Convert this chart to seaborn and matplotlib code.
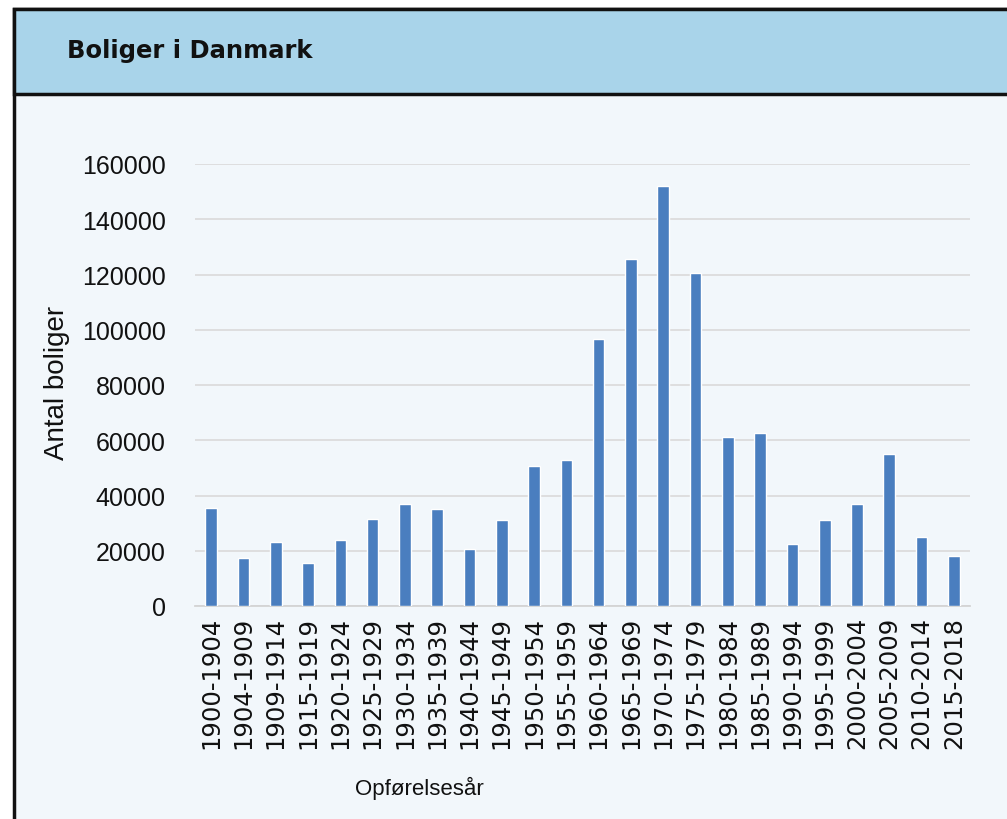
import matplotlib
matplotlib.use("Agg")
import matplotlib.pyplot as plt
from matplotlib.patches import Rectangle
import seaborn as sns
import pandas as pd

categories = ["1900-1904", "1904-1909", "1909-1914", "1915-1919", "1920-1924",
              "1925-1929", "1930-1934", "1935-1939", "1940-1944", "1945-1949",
              "1950-1954", "1955-1959", "1960-1964", "1965-1969", "1970-1974",
              "1975-1979", "1980-1984", "1985-1989", "1990-1994", "1995-1999",
              "2000-2004", "2005-2009", "2010-2014", "2015-2018"]
values = [35500, 17500, 23000, 15500, 24000, 31500, 36800, 35000, 20500, 31200,
          50500, 53000, 96500, 125500, 152000, 120500, 61000, 62500, 22300, 31000,
          37000, 55000, 24800, 18000]
yticks = [0, 20000, 40000, 60000, 80000, 100000, 120000, 140000, 160000]
title = "Boliger i Danmark"
ylabel = "Antal boliger"
xlabel = "Opførelsesår"

df = pd.DataFrame({"period": categories, "count": values})

sns.set_theme(style="white")
plt.rcParams["font.family"] = ["DejaVu Sans"]

W, H = 1007, 820
fig = plt.figure(figsize=(W / 100, H / 100), dpi=100)
fig.patch.set_facecolor("white")

def fx(px):
    return px / W

def fy(py):
    return 1 - py / H

# frame body
fig.patches.append(Rectangle((fx(14), fy(830)), fx(1010 - 14), fy(10) - fy(830),
                             transform=fig.transFigure, facecolor="#f2f7fb",
                             edgecolor="#111111", linewidth=2.5, zorder=-3))
# title bar
fig.patches.append(Rectangle((fx(14), fy(95)), fx(1010 - 14), fy(10) - fy(95),
                             transform=fig.transFigure, facecolor="#a9d4ea",
                             edgecolor="#111111", linewidth=2.5, zorder=-2))
fig.text(fx(67), fy(51), title, fontsize=17.5, fontweight="bold",
         family=["DejaVu Sans"], color="#111111", ha="left", va="center")

ax = fig.add_axes([fx(195), fy(607), fx(970) - fx(195), fy(165) - fy(607)])
ax.set_facecolor("none")
ax.set_zorder(2)
sns.barplot(data=df, x="period", y="count", color="#4a7ebf", width=0.36,
            saturation=1, ax=ax, zorder=3)
ax.set_ylim(0, 160000)
ax.set_xlim(-0.5, len(categories) - 0.5)
ax.set_yticks(yticks)
ax.set_yticklabels([str(v) for v in yticks], family=["Liberation Sans"],
                   fontsize=18, color="#111111")
ax.yaxis.grid(True, color="#dcdcdc", linewidth=1.3, zorder=0)
ax.set_axisbelow(True)
ax.tick_params(axis="y", length=0, pad=21)
ax.tick_params(axis="x", length=0, pad=7)
plt.setp(ax.get_xticklabels(), rotation=90, fontsize=17.5, color="#111111",
         family=["DejaVu Sans"])
for s in ["top", "right", "left"]:
    ax.spines[s].set_visible(False)
ax.spines["bottom"].set_color("#d4d4d4")
ax.spines["bottom"].set_linewidth(1.3)
ax.set_xlabel("")
ax.set_ylabel("")

fig.text(fx(57), fy(383), ylabel, rotation=90, fontsize=20,
         family=["Liberation Sans"], color="#111111",
         ha="center", va="center")
fig.text(fx(419), fy(788), xlabel, fontsize=16,
         family=["Liberation Sans"], color="#111111",
         ha="center", va="center")

fig.savefig("out.png", dpi=100)
